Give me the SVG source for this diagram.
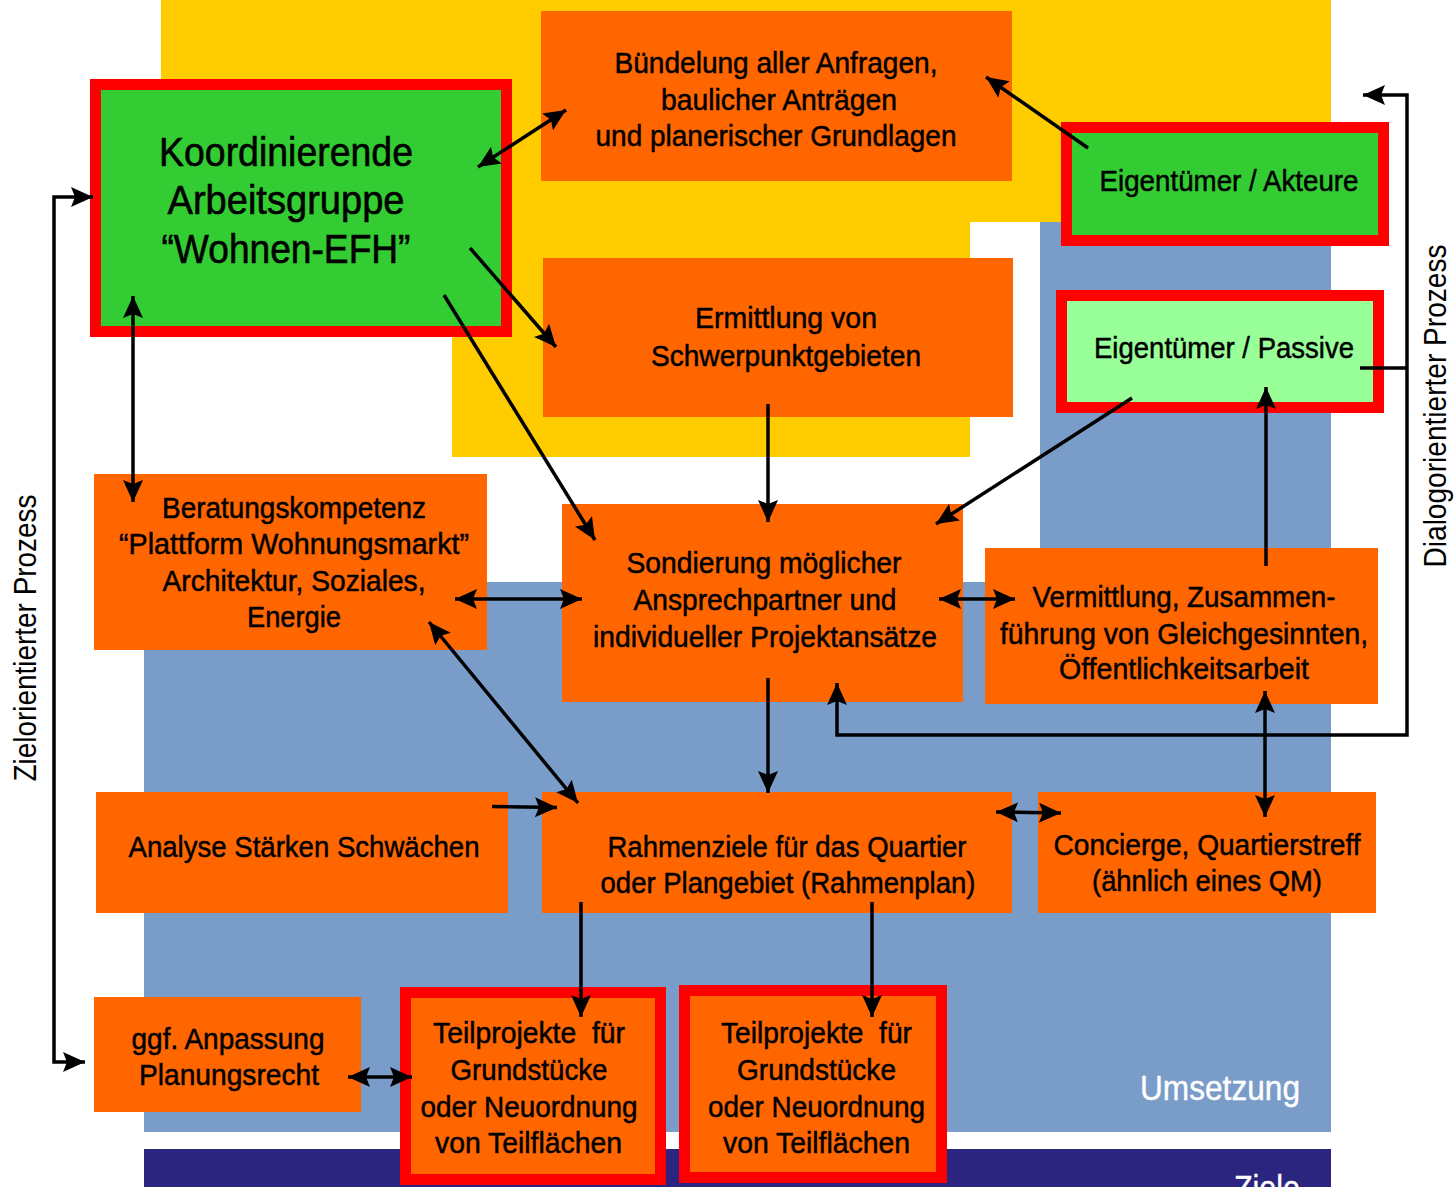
<svg xmlns="http://www.w3.org/2000/svg" width="1456" height="1187" viewBox="0 0 1456 1187">
<style>
.t{font-family:"Liberation Sans Narrow","Liberation Sans",Arial,sans-serif;font-size:30px;fill:#000;stroke:#000;stroke-width:0.5;text-anchor:middle}
.big{font-size:40px;stroke-width:0.6}
.side{font-family:"Liberation Sans",Arial,sans-serif;font-size:32px;fill:#000;text-anchor:middle}
.w{font-family:"Liberation Sans Narrow","Liberation Sans",Arial,sans-serif;font-size:35px;fill:#fff;stroke:#fff;stroke-width:0.4;text-anchor:end}
.or{fill:#FF6600}
.gr{fill:#33CC33;stroke:#FF0000;stroke-width:11}
.lg{fill:#99FF99;stroke:#FF0000;stroke-width:11}
.ro{fill:#FF6600;stroke:#FF0000;stroke-width:11}
.c{fill:none;stroke:#000;stroke-width:3.5}
.a{marker-end:url(#ah)}
.aa{marker-start:url(#ah);marker-end:url(#ah)}
</style>
<defs>
<marker id="ah" viewBox="-23 -11 24 22" refX="0" refY="0" markerWidth="24" markerHeight="22" markerUnits="userSpaceOnUse" orient="auto-start-reverse">
<path d="M0,0 L-22,-10 L-18,0 L-22,10 Z" fill="#000"/>
</marker>
</defs>
<rect width="1456" height="1187" fill="#fff"/>
<g id="background">
<path d="M161,0 H1331 V222 H970 V457 H452 V336 H161 Z" fill="#FFCC00"/>
<path d="M1040,222 H1331 V1132 H144 V582 H1040 Z" fill="#7A9CC8"/>
<rect x="144" y="1149" width="1187" height="38" fill="#2B2580"/>
<text class="w" x="1300" y="1100" textLength="160" lengthAdjust="spacingAndGlyphs">Umsetzung</text>
<text class="w" x="1300" y="1200" textLength="66" lengthAdjust="spacingAndGlyphs">Ziele</text>
<text class="side" transform="translate(36,638) rotate(-90)" textLength="287" lengthAdjust="spacingAndGlyphs">Zielorientierter Prozess</text>
<text class="side" transform="translate(1446,406) rotate(-90)" textLength="323" lengthAdjust="spacingAndGlyphs">Dialogorientierter Prozess</text>
</g>
<g id="koordinierende">
<rect class="gr" x="95.5" y="84.5" width="411" height="247"/>
<text class="t big" x="286" y="166" textLength="254" lengthAdjust="spacingAndGlyphs">Koordinierende</text>
<text class="t big" x="286" y="214" textLength="237" lengthAdjust="spacingAndGlyphs">Arbeitsgruppe</text>
<text class="t big" x="286" y="263" textLength="249" lengthAdjust="spacingAndGlyphs">“Wohnen-EFH”</text>
</g>
<g id="buendelung">
<rect class="or" x="541" y="11" width="471" height="170"/>
<text class="t" x="776" y="73" textLength="323" lengthAdjust="spacingAndGlyphs">Bündelung aller Anfragen,</text>
<text class="t" x="779" y="110" textLength="236" lengthAdjust="spacingAndGlyphs">baulicher Anträgen</text>
<text class="t" x="776" y="146" textLength="361" lengthAdjust="spacingAndGlyphs">und planerischer Grundlagen</text>
</g>
<g id="akteure">
<rect class="gr" x="1066.5" y="127.5" width="317" height="113"/>
<text class="t" x="1229" y="191" textLength="259" lengthAdjust="spacingAndGlyphs">Eigentümer / Akteure</text>
</g>
<g id="passive">
<rect class="lg" x="1061.5" y="295.5" width="317" height="112"/>
<text class="t" x="1224" y="358" textLength="260" lengthAdjust="spacingAndGlyphs">Eigentümer / Passive</text>
</g>
<g id="ermittlung">
<rect class="or" x="543" y="258" width="470" height="159"/>
<text class="t" x="786" y="328" textLength="182" lengthAdjust="spacingAndGlyphs">Ermittlung von</text>
<text class="t" x="786" y="366" textLength="270" lengthAdjust="spacingAndGlyphs">Schwerpunktgebieten</text>
</g>
<g id="beratung">
<rect class="or" x="94" y="474" width="393" height="176"/>
<text class="t" x="294" y="518" textLength="264" lengthAdjust="spacingAndGlyphs">Beratungskompetenz</text>
<text class="t" x="294" y="554" textLength="350" lengthAdjust="spacingAndGlyphs">“Plattform Wohnungsmarkt”</text>
<text class="t" x="294" y="591" textLength="263" lengthAdjust="spacingAndGlyphs">Architektur, Soziales,</text>
<text class="t" x="294" y="627" textLength="94" lengthAdjust="spacingAndGlyphs">Energie</text>
</g>
<g id="sondierung">
<rect class="or" x="562" y="504" width="401" height="198"/>
<text class="t" x="764" y="573" textLength="275" lengthAdjust="spacingAndGlyphs">Sondierung möglicher</text>
<text class="t" x="765" y="610" textLength="263" lengthAdjust="spacingAndGlyphs">Ansprechpartner und</text>
<text class="t" x="765" y="647" textLength="344" lengthAdjust="spacingAndGlyphs">individueller Projektansätze</text>
</g>
<g id="vermittlung">
<rect class="or" x="985" y="548" width="393" height="156"/>
<text class="t" x="1184" y="607" textLength="303" lengthAdjust="spacingAndGlyphs">Vermittlung, Zusammen-</text>
<text class="t" x="1184" y="644" textLength="368" lengthAdjust="spacingAndGlyphs">führung von Gleichgesinnten,</text>
<text class="t" x="1184" y="679" textLength="250" lengthAdjust="spacingAndGlyphs">Öffentlichkeitsarbeit</text>
</g>
<g id="analyse">
<rect class="or" x="96" y="792" width="412" height="121"/>
<text class="t" x="304" y="857" textLength="351" lengthAdjust="spacingAndGlyphs">Analyse Stärken Schwächen</text>
</g>
<g id="rahmenziele">
<rect class="or" x="542" y="792" width="470" height="121"/>
<text class="t" x="787" y="857" textLength="359" lengthAdjust="spacingAndGlyphs">Rahmenziele für das Quartier</text>
<text class="t" x="788" y="893" textLength="375" lengthAdjust="spacingAndGlyphs">oder Plangebiet (Rahmenplan)</text>
</g>
<g id="concierge">
<rect class="or" x="1038" y="792" width="338" height="121"/>
<text class="t" x="1207" y="855" textLength="307" lengthAdjust="spacingAndGlyphs">Concierge, Quartierstreff</text>
<text class="t" x="1207" y="891" textLength="230" lengthAdjust="spacingAndGlyphs">(ähnlich eines QM)</text>
</g>
<g id="anpassung">
<rect class="or" x="94" y="997" width="267" height="115"/>
<text class="t" x="228" y="1049" textLength="193" lengthAdjust="spacingAndGlyphs">ggf. Anpassung</text>
<text class="t" x="229" y="1085" textLength="180" lengthAdjust="spacingAndGlyphs">Planungsrecht</text>
</g>
<g id="teilprojekte1">
<rect class="ro" x="405.5" y="992.5" width="255" height="187"/>
<text class="t" x="529" y="1043" textLength="192" lengthAdjust="spacingAndGlyphs" xml:space="preserve">Teilprojekte  für</text>
<text class="t" x="529" y="1080" textLength="157" lengthAdjust="spacingAndGlyphs">Grundstücke</text>
<text class="t" x="529" y="1117" textLength="217" lengthAdjust="spacingAndGlyphs">oder Neuordnung</text>
<text class="t" x="528.5" y="1153" textLength="187" lengthAdjust="spacingAndGlyphs">von Teilflächen</text>
</g>
<g id="teilprojekte2">
<rect class="ro" x="684.5" y="990.5" width="257" height="187"/>
<text class="t" x="816.5" y="1043" textLength="191" lengthAdjust="spacingAndGlyphs" xml:space="preserve">Teilprojekte  für</text>
<text class="t" x="816.5" y="1080" textLength="159" lengthAdjust="spacingAndGlyphs">Grundstücke</text>
<text class="t" x="816.5" y="1117" textLength="217" lengthAdjust="spacingAndGlyphs">oder Neuordnung</text>
<text class="t" x="816.5" y="1153" textLength="187" lengthAdjust="spacingAndGlyphs">von Teilflächen</text>
</g>
<g id="connectors">
<line class="c aa" x1="478" y1="167" x2="566" y2="110"/>
<line class="c a" x1="1088" y1="148" x2="986" y2="77"/>
<line class="c a" x1="470" y1="248" x2="556" y2="347"/>
<line class="c a" x1="444" y1="295" x2="595" y2="540"/>
<line class="c aa" x1="133" y1="296" x2="133" y2="502"/>
<path class="c aa" d="M93,197 H54 V1062 H85"/>
<line class="c a" x1="768" y1="404" x2="768" y2="522"/>
<line class="c a" x1="1132" y1="398" x2="936" y2="524"/>
<line class="c aa" x1="455" y1="599" x2="582" y2="599"/>
<line class="c aa" x1="939" y1="599" x2="1015" y2="599"/>
<line class="c a" x1="1266" y1="566" x2="1266" y2="387"/>
<line class="c" x1="1360" y1="368" x2="1407" y2="368"/>
<path class="c aa" d="M1363,95 H1407 V735 H837 V683"/>
<line class="c a" x1="768" y1="678" x2="768" y2="793"/>
<line class="c aa" x1="1265" y1="691" x2="1265" y2="817"/>
<line class="c aa" x1="429" y1="622" x2="578" y2="803"/>
<line class="c a" x1="492" y1="806.5" x2="557" y2="807.5"/>
<line class="c aa" x1="996" y1="812" x2="1061" y2="813"/>
<line class="c a" x1="581" y1="902" x2="581" y2="1017"/>
<line class="c a" x1="872" y1="902" x2="872" y2="1017"/>
<line class="c aa" x1="348" y1="1077" x2="412" y2="1077"/>
</g>
</svg>
